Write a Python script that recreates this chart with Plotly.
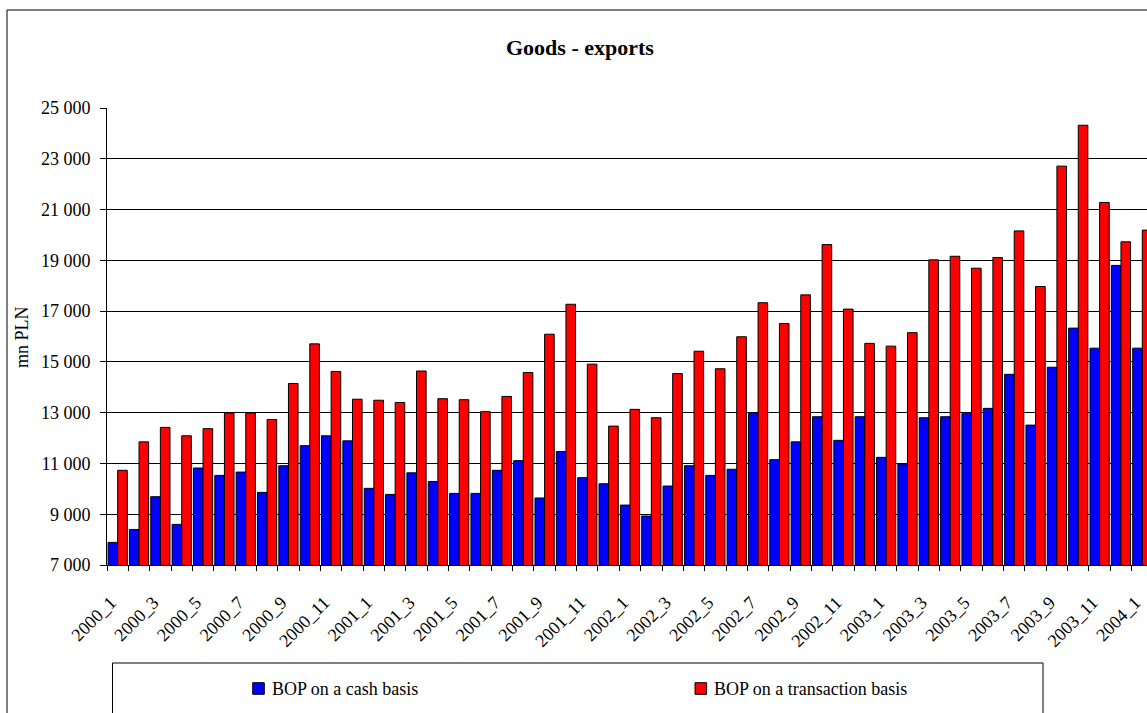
import plotly.graph_objects as go

# Monthly goods exports, mn PLN
categories = [f"{year}_{month}" for year in (2000, 2001, 2002, 2003) for month in range(1, 13)] + ["2004_1"]

cash_basis = [
    7890, 8400, 9690, 8600, 10820, 10530, 10660, 9860, 10910, 11700, 12090, 11890,
    10020, 9780, 10630, 10290, 9820, 9820, 10730, 11110, 9640, 11470, 10440, 10200,
    9360, 8930, 10110, 10910, 10530, 10770, 12980, 11150, 11850, 12840, 11910, 12840,
    11240, 10980, 12800, 12840, 12960, 13170, 14510, 12510, 14790, 16330, 15540, 18800,
    15540,
]

transaction_basis = [
    10730, 11850, 12420, 12090, 12370, 12980, 12980, 12730, 14150, 15710, 14620, 13530,
    13490, 13400, 14640, 13550, 13510, 13040, 13640, 14580, 16090, 17270, 14910, 12470,
    13130, 12800, 14540, 15420, 14730, 15990, 17330, 16510, 17640, 19620, 17080, 15730,
    15620, 16150, 19020, 19160, 18690, 19110, 20160, 17970, 22710, 24320, 21280, 19730,
    20190,
]

series_names = ["BOP on a cash basis", "BOP on a transaction basis"]
series_colors = ["#0000FF", "#FF0000"]

y_ticks = [7000, 9000, 11000, 13000, 15000, 17000, 19000, 21000, 23000, 25000]

FONT = "Liberation Serif, Times New Roman, serif"
W, H = 1147, 713
ML, MT, MB, MR = 107, 108, 148, 0
PW = W - ML - MR
PH = H - MT - MB


def px_x(p):
    return (p - ML) / PW


def px_y(p):
    return (H - MB - p) / PH


positions = list(range(len(categories)))

fig = go.Figure()
for name, color, values in zip(series_names, series_colors, [cash_basis, transaction_basis]):
    fig.add_trace(go.Bar(
        x=positions,
        y=values,
        name=name,
        marker=dict(color=color, line=dict(color="black", width=1)),
        showlegend=False,
    ))

# Legend panel below the plot: swatch + label for each series
legend_swatch_left = [252.7, 695.0]
legend_shapes = []
legend_labels = []
for name, color, left in zip(series_names, series_colors, legend_swatch_left):
    legend_shapes.append(dict(
        type="rect", xref="paper", yref="paper",
        x0=px_x(left), x1=px_x(left + 11.6), y0=px_y(694.3), y1=px_y(682.7),
        line=dict(color="black", width=1), fillcolor=color,
    ))
    legend_labels.append(dict(
        text=name, xref="paper", yref="paper",
        x=px_x(left + 17.0), y=px_y(688.5),
        xanchor="left", yanchor="middle", showarrow=False,
        font=dict(family=FONT, size=18, color="black"),
    ))

fig.update_layout(
    width=W,
    height=H,
    margin=dict(l=ML, r=MR, t=MT, b=MB, pad=0),
    paper_bgcolor="white",
    plot_bgcolor="white",
    barmode="group",
    bargap=0.1,
    bargroupgap=0,
    separators=". ",
    font=dict(family=FONT, size=18, color="black"),
    xaxis=dict(
        range=[-0.5, 48.22],
        tickmode="array",
        tickvals=positions[::2],
        ticktext=categories[::2],
        tickangle=-45,
        ticks="",
        tickfont=dict(family=FONT, size=18, color="black"),
        ticklabelstandoff=19,
        ticklabelshift=-7,
        ticklabeloverflow="allow",
        showgrid=False,
        zeroline=False,
        showline=True,
        linecolor="black",
        linewidth=1,
        minor=dict(
            tickmode="linear",
            tick0=-0.5,
            dtick=1,
            ticks="outside",
            ticklen=5,
            tickcolor="black",
            tickwidth=1,
            showgrid=False,
        ),
    ),
    yaxis=dict(
        range=[7000, 25000],
        tickmode="array",
        tickvals=y_ticks,
        tickformat=",d",
        ticks="outside",
        ticklen=6,
        tickcolor="black",
        tickfont=dict(family=FONT, size=18, color="black"),
        showgrid=True,
        gridcolor="black",
        gridwidth=1,
        zeroline=False,
        showline=True,
        linecolor="black",
        linewidth=1,
        ticklabelstandoff=6,
    ),
    annotations=[
        dict(
            text="<b>Goods - exports</b>",
            xref="paper", yref="paper",
            x=px_x(580), y=px_y(47),
            xanchor="center", yanchor="middle",
            showarrow=False,
            font=dict(family=FONT, size=22, color="black"),
        ),
        dict(
            text="mn PLN",
            xref="paper", yref="paper",
            x=px_x(22), y=px_y(337),
            xanchor="center", yanchor="middle",
            textangle=-90,
            showarrow=False,
            font=dict(family=FONT, size=18, color="black"),
        ),
    ] + legend_labels,
    shapes=[
        # chart area frame
        dict(type="rect", xref="paper", yref="paper",
             x0=px_x(7), x1=px_x(1200), y0=px_y(760), y1=px_y(10),
             line=dict(color="black", width=1), fillcolor="rgba(0,0,0,0)", layer="below"),
        # legend frame
        dict(type="rect", xref="paper", yref="paper",
             x0=px_x(112.5), x1=px_x(1043), y0=px_y(760), y1=px_y(663),
             line=dict(color="black", width=1), fillcolor="rgba(0,0,0,0)", layer="below"),
    ] + legend_shapes,
)

fig.write_html("out.html")
